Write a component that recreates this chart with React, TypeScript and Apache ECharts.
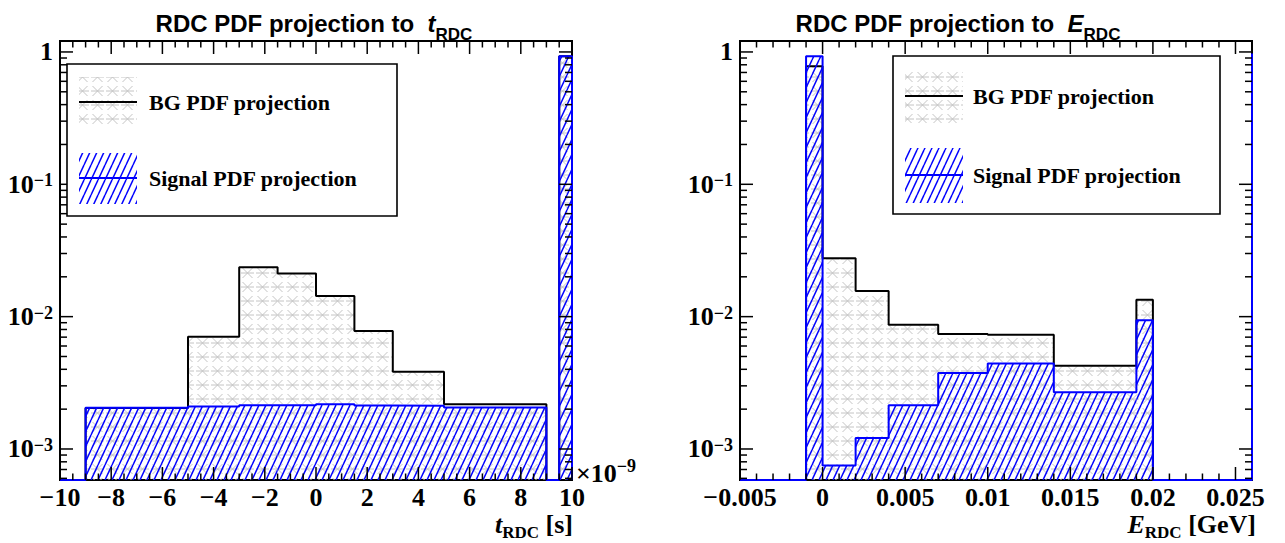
import React, { useEffect, useRef } from "react";
import * as echarts from "echarts";

// ---------------- data ----------------
// t_RDC projection (bin edges in units of 1e-9 s)
const tEdges = [-10, -9, -5, -3, -1.5, 0, 1.5, 3, 5, 9, 9.5, 10];
const tBG = [0, 0.00204, 0.00706, 0.0236, 0.0212, 0.0143, 0.0078, 0.00384, 0.00218, 0, 0.93];
const tSignal = [0, 0.00205, 0.00209, 0.00214, 0.00214, 0.00218, 0.00213, 0.00212, 0.00206, 0, 0.93];

// E_RDC projection (GeV)
const eEdges = [-0.005, -0.001, 0, 0.002, 0.004, 0.007, 0.01, 0.014, 0.019, 0.02, 0.026];
const eBG = [0, 0.78, 0.0276, 0.0156, 0.0087, 0.0074, 0.0073, 0.00425, 0.0134, 0];
const eSignal = [0, 0.93, 0.00075, 0.00121, 0.00214, 0.00375, 0.00443, 0.00268, 0.0094, 0];
const eSignalEdge = 0.975;

const tTickValues = [-10, -8, -6, -4, -2, 0, 2, 4, 6, 8, 10];
const eTickValues = [-0.005, 0, 0.005, 0.01, 0.015, 0.02, 0.025];
const Y_MIN = 0.000583;
const Y_MAX = 1.21;

const SERIF = "'Liberation Serif', 'Times New Roman', serif";
const SANS = "'Liberation Sans', Arial, sans-serif";

function makeHatch(): HTMLCanvasElement {
  const w = 7, h = 15;
  const c = document.createElement("canvas");
  c.width = w; c.height = h;
  const ctx = c.getContext("2d")!;
  ctx.strokeStyle = "#0000ff";
  ctx.lineWidth = 1.5;
  for (const dx of [-w, 0, w]) {
    ctx.beginPath();
    ctx.moveTo(dx, h);
    ctx.lineTo(dx + w, 0);
    ctx.stroke();
  }
  return c;
}

function makeStars(): HTMLCanvasElement {
  const w = 15, h = 14;
  const c = document.createElement("canvas");
  c.width = w; c.height = h;
  const ctx = c.getContext("2d")!;
  ctx.strokeStyle = "#c4c4c4";
  ctx.lineWidth = 1;
  const cx = 7.5, cy = 7, r = 5;
  ctx.beginPath();
  ctx.moveTo(cx - r, cy - r); ctx.lineTo(cx + r, cy + r);
  ctx.moveTo(cx + r, cy - r); ctx.lineTo(cx - r, cy + r);
  ctx.moveTo(1, cy); ctx.lineTo(14, cy);
  ctx.stroke();
  return c;
}

function outline(edges: number[], vals: number[], extra?: number) {
  const pts: number[][] = [[edges[0], Y_MIN]];
  vals.forEach((v, i) => {
    const y = v > 0 ? v : Y_MIN;
    pts.push([edges[i], y], [edges[i + 1], y]);
  });
  pts.push([edges[edges.length - 1], Y_MIN]);
  if (extra) pts.push([edges[edges.length - 1], extra]);
  return pts;
}

export default function App() {
  const ref = useRef<HTMLDivElement>(null);
  useEffect(() => {
    const el = ref.current!;
    const chart = echarts.init(el, null, { renderer: "svg", width: 1285, height: 543 });
    const hatch: any = { image: makeHatch(), repeat: "repeat", imageWidth: 7, imageHeight: 15 };
    const stars: any = { image: makeStars(), repeat: "repeat", imageWidth: 15, imageHeight: 14 };

    const fillSeries = (idx: number, edges: number[], vals: number[], fill: any, z: number) => ({
      type: "custom",
      xAxisIndex: idx,
      yAxisIndex: idx,
      z,
      clip: true,
      silent: true,
      dimensions: ["x0", "x1", "v"],
      encode: { x: [0, 1], y: 2 },
      data: vals.map((v, i) => [edges[i], edges[i + 1], v]).filter((d) => d[2] > 0),
      renderItem: (_p: any, api: any) => {
        const p0 = api.coord([api.value(0), api.value(2)]);
        const p1 = api.coord([api.value(1), Y_MIN]);
        return {
          type: "rect",
          shape: { x: p0[0], y: p0[1], width: p1[0] - p0[0], height: p1[1] - p0[1] },
          style: { fill, stroke: null },
        };
      },
    });

    const lineSeries = (idx: number, edges: number[], vals: number[], color: string, z: number, extra?: number) => ({
      type: "line",
      xAxisIndex: idx,
      yAxisIndex: idx,
      z,
      clip: false,
      silent: true,
      showSymbol: false,
      symbol: "none",
      lineStyle: { color, width: 2 },
      itemStyle: { color },
      data: outline(edges, vals, extra),
    });

    const tickSeries = (idx: number, xMin: number, xMax: number, tMin: number, tMax: number, step: number, majors: number[]) => ({
      type: "custom",
      xAxisIndex: idx,
      yAxisIndex: idx,
      z: 20,
      clip: false,
      silent: true,
      data: [[xMin, Y_MIN]],
      renderItem: (_p: any, api: any) => {
        const children: any[] = [];
        const bl = api.coord([xMin, Y_MIN]);
        const tr = api.coord([xMax, Y_MAX]);
        const left = bl[0], bottom = bl[1], right = tr[0], top = tr[1];
        const ln = (x1: number, y1: number, x2: number, y2: number) =>
          children.push({ type: "line", shape: { x1, y1, x2, y2 }, style: { stroke: "#000", lineWidth: 1.5 } });
        const n = Math.round((tMax - tMin) / step);
        for (let k = 0; k <= n; k++) {
          const v = tMin + k * step;
          const px = api.coord([v, Y_MIN])[0];
          const major = majors.some((m) => Math.abs(m - v) < step / 10);
          const len = major ? 13 : 6.5;
          ln(px, bottom, px, bottom - len);
          ln(px, top, px, top + len);
        }
        for (let e = -4; e <= 0; e++) {
          for (let m = 1; m <= 9; m++) {
            const v = m * Math.pow(10, e);
            if (v < Y_MIN || v > Y_MAX) continue;
            const py = api.coord([xMin, v])[1];
            const len = m === 1 ? 13 : 7;
            ln(left, py, left + len, py);
            ln(right, py, right - len, py);
          }
        }
        return { type: "group", children };
      },
    });

    const xLabel = (fmt: (v: number) => string, showMax: boolean) => ({
      show: true,
      fontFamily: SERIF,
      fontWeight: "bold",
      fontSize: 26,
      lineHeight: 18,
      color: "#000",
      margin: 8.5,
      hideOverlap: false,
      showMinLabel: true,
      showMaxLabel: showMax,
      formatter: fmt,
    });

    const yAxisCfg = (idx: number) => ({
      type: "log",
      logBase: 10,
      gridIndex: idx,
      min: Y_MIN,
      max: Y_MAX,
      axisLine: { show: false },
      axisTick: { show: false },
      splitLine: { show: false },
      axisLabel: {
        show: true,
        margin: 7,
        showMinLabel: false,
        showMaxLabel: false,
        hideOverlap: false,
        fontFamily: SERIF,
        fontWeight: "bold",
        fontSize: 26,
        color: "#000",
        formatter: (v: number) => {
          const e = Math.round(Math.log10(v));
          if (e === 0) return "{b|1}";
          return "{b|10}{sup|" + (e < 0 ? "\u2212" + -e : String(e)) + "}";
        },
        rich: {
          b: { fontFamily: SERIF, fontWeight: "bold", fontSize: 26, lineHeight: 26, color: "#000", verticalAlign: "top" },
          sup: { fontFamily: SERIF, fontWeight: "bold", fontSize: 18, lineHeight: 18, color: "#000", verticalAlign: "top" },
        },
      },
    });

    const fmtMinus = (s: string) => s.replace("-", "\u2212");

    const titleRich = {
      a: { fontFamily: SANS, fontWeight: "bold", fontSize: 24, lineHeight: 24, color: "#000", verticalAlign: "top" },
      it: { fontFamily: SANS, fontWeight: "bold", fontStyle: "italic", fontSize: 24, lineHeight: 24, color: "#000", verticalAlign: "top" },
      sub: { fontFamily: SANS, fontWeight: "bold", fontSize: 17, lineHeight: 17, color: "#000", verticalAlign: "top", padding: [15, 0, 0, 0] },
    };

    const axisTitleRich = {
      it: { fontFamily: SERIF, fontWeight: "bold", fontStyle: "italic", fontSize: 26, lineHeight: 18, fill: "#000", verticalAlign: "top" },
      sub: { fontFamily: SERIF, fontWeight: "bold", fontSize: 17, lineHeight: 14, fill: "#000", verticalAlign: "top", padding: [13, 0, 0, 0] },
      b: { fontFamily: SERIF, fontWeight: "bold", fontSize: 26, lineHeight: 18, fill: "#000", verticalAlign: "top" },
    };

    const legendFont = { fontFamily: SERIF, fontWeight: "bold", fontSize: 22, fill: "#000" };

    const legendEls = (bx: number, by: number, bw: number, bh: number, sx: number, sw: number,
      bgY: number, bgH: number, bgL: number, sgY: number, sgH: number, sgL: number, tx: number) => [
      { type: "rect", z: 100, shape: { x: bx, y: by, width: bw, height: bh }, style: { fill: "#fff", stroke: "#000", lineWidth: 1.6 } },
      { type: "rect", z: 101, shape: { x: sx, y: bgY, width: sw, height: bgH }, style: { fill: stars } },
      { type: "line", z: 102, shape: { x1: sx, y1: bgL, x2: sx + sw, y2: bgL }, style: { stroke: "#000", lineWidth: 2 } },
      { type: "text", z: 102, x: tx, y: bgL, style: { text: "BG PDF projection", ...legendFont, verticalAlign: "middle", align: "left" } },
      { type: "rect", z: 101, shape: { x: sx, y: sgY, width: sw, height: sgH }, style: { fill: hatch } },
      { type: "line", z: 102, shape: { x1: sx, y1: sgL, x2: sx + sw, y2: sgL }, style: { stroke: "#0000ff", lineWidth: 2 } },
      { type: "text", z: 102, x: tx, y: sgL, style: { text: "Signal PDF projection", ...legendFont, verticalAlign: "middle", align: "left" } },
    ];

    const option: any = {
      animation: false,
      backgroundColor: "#fff",
      title: [
        {
          text: "{a|RDC PDF projection to  }{it|t}{sub|RDC}",
          left: 314, top: 11, padding: 0, textAlign: "center", textVerticalAlign: "top",
          textStyle: { rich: titleRich },
        },
        {
          text: "{a|RDC PDF projection to  }{it|E}{sub|RDC}",
          left: 958, top: 11, padding: 0, textAlign: "center", textVerticalAlign: "top",
          textStyle: { rich: titleRich },
        },
      ],
      grid: [
        { left: 60, top: 41, width: 512, height: 439, show: true, borderColor: "#000", borderWidth: 2, backgroundColor: "transparent", containLabel: false, outerBoundsMode: "none" },
        { left: 740, top: 41, width: 512, height: 439, show: true, borderColor: "#000", borderWidth: 2, backgroundColor: "transparent", containLabel: false, outerBoundsMode: "none" },
      ],
      xAxis: [
        {
          type: "value", gridIndex: 0, min: tTickValues[0], max: tTickValues[tTickValues.length - 1], interval: 2,
          axisLine: { show: false }, axisTick: { show: false }, splitLine: { show: false },
          axisLabel: xLabel((v: number) => fmtMinus(String(Math.round(v))), true),
        },
        {
          type: "value", gridIndex: 1, min: eEdges[0], max: eEdges[eEdges.length - 1], interval: 0.005,
          axisLine: { show: false }, axisTick: { show: false }, splitLine: { show: false },
          axisLabel: xLabel((v: number) => fmtMinus(String(Number(v.toFixed(4)))), false),
        },
      ],
      yAxis: [yAxisCfg(0), yAxisCfg(1)],
      series: [
        fillSeries(0, tEdges, tBG, stars, 2),
        lineSeries(0, tEdges, tBG, "#000", 3),
        fillSeries(0, tEdges, tSignal, hatch, 4),
        lineSeries(0, tEdges, tSignal, "#0000ff", 5),
        tickSeries(0, tEdges[0], tEdges[tEdges.length - 1], -10, 10, 0.5, tTickValues),
        fillSeries(1, eEdges, eBG, stars, 2),
        lineSeries(1, eEdges, eBG, "#000", 3),
        fillSeries(1, eEdges, eSignal, hatch, 4),
        lineSeries(1, eEdges, eSignal, "#0000ff", 5, eSignalEdge),
        tickSeries(1, eEdges[0], eEdges[eEdges.length - 1], -0.005, 0.025, 0.001, eTickValues),
      ],
      graphic: {
        elements: [
          ...legendEls(67, 64, 330, 152, 79, 58, 77, 51, 102, 153, 51, 178, 149),
          ...legendEls(893, 56, 327, 158, 905, 58, 69, 54, 96, 148, 55, 175, 973),
          {
            type: "text", z: 102, x: 573, y: 511,
            style: { text: "{it|t}{sub|RDC}{b| [s]}", rich: axisTitleRich, align: "right", verticalAlign: "top", fill: "#000" },
          },
          {
            type: "text", z: 102, x: 1256, y: 511,
            style: { text: "{it|E}{sub|RDC}{b| [GeV]}", rich: axisTitleRich, align: "right", verticalAlign: "top", fill: "#000" },
          },
          {
            type: "text", z: 102, x: 576, y: 457,
            style: {
              text: "{b|\u00d710}{sup|\u22129}", align: "left", verticalAlign: "top", fill: "#000",
              rich: {
                b: { fontFamily: SERIF, fontWeight: "bold", fontSize: 26, lineHeight: 22, fill: "#000", verticalAlign: "top", padding: [3, 0, 0, 0] },
                sup: { fontFamily: SERIF, fontWeight: "bold", fontSize: 18, lineHeight: 15, fill: "#000", verticalAlign: "top" },
              },
            },
          },
        ],
      },
    };

    chart.setOption(option);
    return () => chart.dispose();
  }, []);

  return (
    <div
      ref={ref}
      style={{ position: "absolute", left: 0, top: 0, width: 1285, height: 543, background: "#fff" }}
    />
  );
}
